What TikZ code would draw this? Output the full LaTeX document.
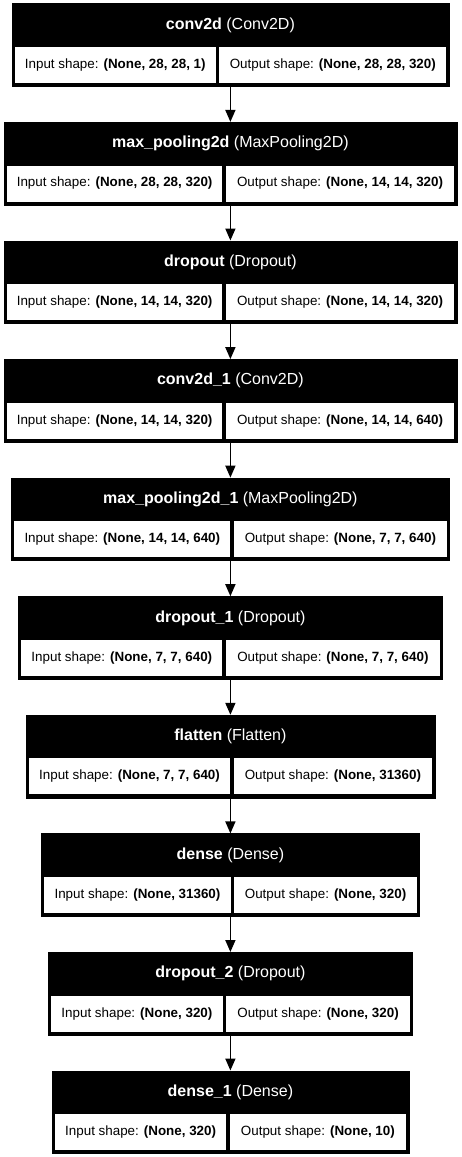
\documentclass[tikz,border=0pt]{standalone}
\usepackage{fontspec}
\setmainfont{Liberation Sans}
\usetikzlibrary{arrows.meta, positioning}

\begin{document}
\begin{tikzpicture}[x=1pt, y=-1pt, >={Triangle[length=12pt, width=10pt]},
		layer/.style={rectangle, fill=black, draw=black, line width=0.4pt, minimum height=82.7pt, inner sep=0pt, anchor=north},
		head/.style={text=white, inner sep=0pt, font=\fontsize{16}{19}\selectfont},
		cell/.style={rectangle, fill=white, minimum height=36pt, inner sep=0pt, font=\fontsize{13.4}{16}\selectfont},
		flow/.style={->, line width=1.6pt}]
		\useasboundingbox (0, 0) rectangle (461, 1157);
		
		% layer boxes
		\node[layer, minimum width=437.3pt] (n1) at (230.4, 3.3) {};
		\node[layer, minimum width=453pt] (n2) at (230.4, 121.9) {};
		\node[layer, minimum width=453pt] (n3) at (230.4, 240.5) {};
		\node[layer, minimum width=453pt] (n4) at (230.4, 359.1) {};
		\node[layer, minimum width=438.3pt] (n5) at (230.4, 477.6) {};
		\node[layer, minimum width=424.4pt] (n6) at (230.4, 596.2) {};
		\node[layer, minimum width=409pt] (n7) at (230.4, 714.8) {};
		\node[layer, minimum width=378.3pt] (n8) at (230.4, 833.4) {};
		\node[layer, minimum width=364.4pt] (n9) at (230.4, 952.0) {};
		\node[layer, minimum width=356.7pt] (n10) at (230.4, 1070.5) {};
		
		% headers
		\node[head] (n1h) at ([yshift=-21.7pt]n1.north) {\textbf{conv2d} (Conv2D)};
		\node[head] (n2h) at ([yshift=-21.7pt]n2.north) {\textbf{max\_pooling2d} (MaxPooling2D)};
		\node[head] (n3h) at ([yshift=-21.7pt]n3.north) {\textbf{dropout} (Dropout)};
		\node[head] (n4h) at ([yshift=-21.7pt]n4.north) {\textbf{conv2d\_1} (Conv2D)};
		\node[head] (n5h) at ([yshift=-21.7pt]n5.north) {\textbf{max\_pooling2d\_1} (MaxPooling2D)};
		\node[head] (n6h) at ([yshift=-21.7pt]n6.north) {\textbf{dropout\_1} (Dropout)};
		\node[head] (n7h) at ([yshift=-21.7pt]n7.north) {\textbf{flatten} (Flatten)};
		\node[head] (n8h) at ([yshift=-21.7pt]n8.north) {\textbf{dense} (Dense)};
		\node[head] (n9h) at ([yshift=-21.7pt]n9.north) {\textbf{dropout\_2} (Dropout)};
		\node[head] (n10h) at ([yshift=-21.7pt]n10.north) {\textbf{dense\_1} (Dense)};
		
		% input / output shapes
		\node[cell, anchor=south west, minimum width=201pt] (n1in) at ([xshift=3pt, yshift=3.3pt]n1.south west) {Input shape: \textbf{(None, 28, 28, 1)}};
		\node[cell, anchor=west, minimum width=227.3pt, right=3pt of n1in] (n1out) {Output shape: \textbf{(None, 28, 28, 320)}};
		\node[cell, anchor=south west, minimum width=215.5pt] (n2in) at ([xshift=3pt, yshift=3.3pt]n2.south west) {Input shape: \textbf{(None, 28, 28, 320)}};
		\node[cell, anchor=west, minimum width=228.5pt, right=3pt of n2in] (n2out) {Output shape: \textbf{(None, 14, 14, 320)}};
		\node[cell, anchor=south west, minimum width=215.5pt] (n3in) at ([xshift=3pt, yshift=3.3pt]n3.south west) {Input shape: \textbf{(None, 14, 14, 320)}};
		\node[cell, anchor=west, minimum width=228.5pt, right=3pt of n3in] (n3out) {Output shape: \textbf{(None, 14, 14, 320)}};
		\node[cell, anchor=south west, minimum width=215.5pt] (n4in) at ([xshift=3pt, yshift=3.3pt]n4.south west) {Input shape: \textbf{(None, 14, 14, 320)}};
		\node[cell, anchor=west, minimum width=228.5pt, right=3pt of n4in] (n4out) {Output shape: \textbf{(None, 14, 14, 640)}};
		\node[cell, anchor=south west, minimum width=216.2pt] (n5in) at ([xshift=3pt, yshift=3.3pt]n5.south west) {Input shape: \textbf{(None, 14, 14, 640)}};
		\node[cell, anchor=west, minimum width=213.1pt, right=3pt of n5in] (n5out) {Output shape: \textbf{(None, 7, 7, 640)}};
		\node[cell, anchor=south west, minimum width=201.2pt] (n6in) at ([xshift=3pt, yshift=3.3pt]n6.south west) {Input shape: \textbf{(None, 7, 7, 640)}};
		\node[cell, anchor=west, minimum width=214.2pt, right=3pt of n6in] (n6out) {Output shape: \textbf{(None, 7, 7, 640)}};
		\node[cell, anchor=south west, minimum width=201.2pt] (n7in) at ([xshift=3pt, yshift=3.3pt]n7.south west) {Input shape: \textbf{(None, 7, 7, 640)}};
		\node[cell, anchor=west, minimum width=198.8pt, right=3pt of n7in] (n7out) {Output shape: \textbf{(None, 31360)}};
		\node[cell, anchor=south west, minimum width=186.5pt] (n8in) at ([xshift=3pt, yshift=3.3pt]n8.south west) {Input shape: \textbf{(None, 31360)}};
		\node[cell, anchor=west, minimum width=182.8pt, right=3pt of n8in] (n8out) {Output shape: \textbf{(None, 320)}};
		\node[cell, anchor=south west, minimum width=171.5pt] (n9in) at ([xshift=3pt, yshift=3.3pt]n9.south west) {Input shape: \textbf{(None, 320)}};
		\node[cell, anchor=west, minimum width=183.9pt, right=3pt of n9in] (n9out) {Output shape: \textbf{(None, 320)}};
		\node[cell, anchor=south west, minimum width=171.2pt] (n10in) at ([xshift=3pt, yshift=3.3pt]n10.south west) {Input shape: \textbf{(None, 320)}};
		\node[cell, anchor=west, minimum width=176.5pt, right=3pt of n10in] (n10out) {Output shape: \textbf{(None, 10)}};
		
		\draw[flow] (n1) -- (n2);
		\draw[flow] (n2) -- (n3);
		\draw[flow] (n3) -- (n4);
		\draw[flow] (n4) -- (n5);
		\draw[flow] (n5) -- (n6);
		\draw[flow] (n6) -- (n7);
		\draw[flow] (n7) -- (n8);
		\draw[flow] (n8) -- (n9);
		\draw[flow] (n9) -- (n10);
	\end{tikzpicture}
\end{document}
